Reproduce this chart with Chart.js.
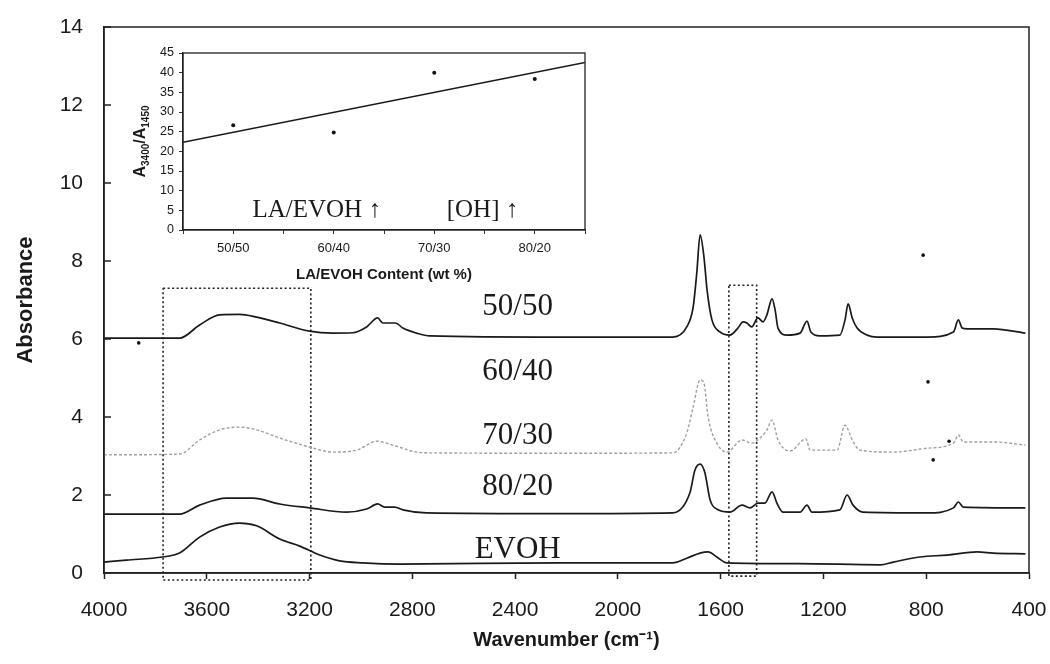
<!DOCTYPE html>
<html>
<head>
<meta charset="utf-8">
<script src="https://cdn.jsdelivr.net/npm/chart.js@4.4.0/dist/chart.umd.min.js"></script>
<style>
  html, body { margin: 0; padding: 0; background: #fff; }
  #wrap { position: relative; width: 1050px; height: 664px; }
  #main { position: absolute; left: 0; top: 0; }
  #inset { position: absolute; left: 120px; top: 40px; }
</style>
</head>
<body>
<div id="wrap">
  <canvas id="main" width="1050" height="664" style="width:1050px;height:664px"></canvas>
  <canvas id="inset" width="480" height="250" style="width:480px;height:250px"></canvas>
</div>
<script>
// FTIR spectra (wavenumber cm-1 / absorbance)
const wn5050 = [4000, 3706, 3628, 3550, 3472, 3406, 3316, 3200, 3110, 3032, 2978, 2935, 2915, 2888, 2865, 2837, 2783, 2732, 2226, 1786, 1732, 1707, 1693, 1680, 1665, 1653, 1634, 1603, 1564, 1533, 1513, 1498, 1479, 1455, 1435, 1420, 1400, 1388, 1377, 1342, 1291, 1264, 1249, 1214, 1136, 1116, 1104, 1088, 1069, 1030, 991, 796, 694, 675, 660, 640, 539, 414];
const ab5050 = [6.02, 6.02, 6.36, 6.62, 6.63, 6.56, 6.41, 6.2, 6.15, 6.16, 6.31, 6.54, 6.41, 6.41, 6.41, 6.28, 6.15, 6.08, 6.05, 6.05, 6.31, 6.82, 7.69, 8.67, 8.1, 7.26, 6.49, 6.18, 6.1, 6.28, 6.44, 6.41, 6.31, 6.54, 6.44, 6.62, 7.03, 6.74, 6.28, 6.1, 6.15, 6.46, 6.18, 6.08, 6.1, 6.49, 6.9, 6.54, 6.28, 6.1, 6.05, 6.05, 6.18, 6.49, 6.28, 6.26, 6.26, 6.15];

const wn7030 = [4000, 3706, 3628, 3550, 3472, 3406, 3316, 3200, 3110, 3017, 2939, 2876, 2783, 2720, 2226, 1786, 1732, 1707, 1680, 1665, 1649, 1615, 1576, 1517, 1479, 1455, 1420, 1400, 1377, 1330, 1268, 1252, 1147, 1116, 1088, 1058, 928, 796, 694, 675, 656, 539, 414];
const ab7030 = [3.03, 3.05, 3.41, 3.67, 3.74, 3.67, 3.46, 3.23, 3.1, 3.15, 3.38, 3.28, 3.1, 3.08, 3.07, 3.08, 3.59, 4.26, 4.95, 4.87, 4.0, 3.33, 3.1, 3.41, 3.33, 3.41, 3.67, 3.92, 3.41, 3.13, 3.44, 3.15, 3.15, 3.79, 3.41, 3.15, 3.1, 3.2, 3.33, 3.54, 3.36, 3.36, 3.28];

const wn8020 = [4000, 3706, 3628, 3523, 3421, 3316, 3200, 3056, 2978, 2935, 2908, 2869, 2837, 2745, 2226, 1786, 1720, 1700, 1680, 1661, 1641, 1610, 1564, 1517, 1486, 1455, 1428, 1400, 1381, 1357, 1291, 1264, 1245, 1136, 1108, 1085, 1046, 796, 694, 675, 656, 414];
const ab8020 = [1.51, 1.51, 1.74, 1.92, 1.92, 1.77, 1.67, 1.56, 1.64, 1.77, 1.69, 1.69, 1.62, 1.54, 1.52, 1.54, 2.05, 2.64, 2.79, 2.56, 1.87, 1.62, 1.56, 1.74, 1.67, 1.79, 1.79, 2.08, 1.79, 1.56, 1.56, 1.74, 1.56, 1.62, 2.0, 1.74, 1.56, 1.54, 1.67, 1.82, 1.69, 1.67];

const wnEvoh = [4000, 3913, 3772, 3706, 3628, 3550, 3472, 3406, 3316, 3238, 3160, 3083, 2993, 2849, 2226, 1786, 1732, 1680, 1649, 1615, 1576, 1300, 979, 928, 825, 718, 601, 539, 414];
const abEvoh = [0.28, 0.33, 0.41, 0.51, 0.92, 1.18, 1.28, 1.21, 0.87, 0.69, 0.46, 0.31, 0.26, 0.23, 0.26, 0.26, 0.38, 0.51, 0.54, 0.41, 0.26, 0.24, 0.21, 0.28, 0.41, 0.46, 0.54, 0.51, 0.49];

// dotted boxes around the 3400 and 1450 bands
const boxOH = { wn: [3770, 3195], abs: [-0.18, 7.3] };
const boxCH = { wn: [1568, 1460], abs: [-0.08, 7.38] };

// stray specks on the scan
const speckWn = [3865, 812, 793, 711, 773];
const speckAb = [5.9, 8.15, 4.9, 3.38, 2.9];

const curveNames = ['50/50', '60/40', '70/30', '80/20', 'EVOH'];

// inset: A3400/A1450 ratio vs blend ratio
const insetCats = ['50/50', '60/40', '70/30', '80/20'];
const ratio = [26.6, 24.8, 40.0, 38.4];
const trendX = [0.5, 4.5];
const trendY = [22.3, 42.6];

const sans = '"Liberation Sans", Arial, sans-serif';
const serif = '"Liberation Serif", "Times New Roman", serif';
const ink = '#1a1a1a';

const toPts = (xs, ys) => xs.map((x, i) => ({ x: x, y: ys[i] }));

function spectrum(label, xs, ys, color, dash) {
    return {
        type: 'line', label: label, data: toPts(xs, ys),
        borderColor: color, borderWidth: dash ? 1.4 : 1.7, borderDash: dash || [],
        pointRadius: 0, cubicInterpolationMode: 'monotone', fill: false
    };
}

function box(b) {
    const xs = [b.wn[0], b.wn[1], b.wn[1], b.wn[0], b.wn[0]];
    const ys = [b.abs[1], b.abs[1], b.abs[0], b.abs[0], b.abs[1]];
    return {
        type: 'line', data: toPts(xs, ys), borderColor: '#222', borderWidth: 1.6,
        borderDash: [2, 2.5], pointRadius: 0, fill: false, clip: false
    };
}

// where the sample names sit (wavenumber, absorbance)
const nameAt = [[2390, 6.82], [2390, 5.15], [2390, 3.51], [2390, 2.2], [2390, 0.59]];

const mainFrame = {
    id: 'mainFrame',
    afterDraw(chart) {
        const { ctx, chartArea: a, scales: { x, y } } = chart;
        ctx.save();
        ctx.strokeStyle = '#222';
        ctx.lineWidth = 1.5;
        ctx.strokeRect(a.left, a.top, a.right - a.left, a.bottom - a.top);
        // inward tick marks on the absorbance axis
        y.ticks.forEach(t => {
            const py = y.getPixelForValue(t.value);
            ctx.beginPath();
            ctx.moveTo(a.left, py);
            ctx.lineTo(a.left + 7, py);
            ctx.stroke();
        });
        ctx.font = '31px ' + serif;
        ctx.fillStyle = ink;
        ctx.textAlign = 'center';
        ctx.textBaseline = 'middle';
        curveNames.forEach((n, i) => {
            ctx.fillText(n, x.getPixelForValue(nameAt[i][0]), y.getPixelForValue(nameAt[i][1]));
        });
        ctx.restore();
    }
};

new Chart(document.getElementById('main'), {
    type: 'line',
    data: {
        datasets: [
            spectrum('50/50', wn5050, ab5050, ink),
            spectrum('70/30', wn7030, ab7030, '#a0a0a0', [3, 2]),
            spectrum('80/20', wn8020, ab8020, ink),
            spectrum('EVOH', wnEvoh, abEvoh, ink),
            box(boxOH),
            box(boxCH),
            { type: 'scatter', data: toPts(speckWn, speckAb), pointRadius: 1.8, pointBackgroundColor: '#111', pointBorderWidth: 0 }
        ]
    },
    options: {
        responsive: false,
        animation: false,
        layout: { padding: { left: 0, top: 27, right: 21, bottom: 0 } },
        plugins: { legend: { display: false }, tooltip: { enabled: false } },
        scales: {
            x: {
                type: 'linear', reverse: true, min: 400, max: 4000,
                ticks: { stepSize: 400, maxRotation: 0, padding: 19, color: ink, font: { family: sans, size: 21 }, callback: v => String(v) },
                grid: { drawOnChartArea: false, tickLength: 6, tickColor: '#222', tickWidth: 1.5 },
                border: { color: '#222', width: 1.5 },
                title: { display: true, text: 'Wavenumber (cm⁻¹)', color: ink, font: { family: sans, size: 20, weight: 'bold' }, padding: { top: 0, bottom: 12 } },
                afterFit: s => { s.height = 91; s.paddingLeft = 0; s.paddingRight = 0; }
            },
            y: {
                min: 0, max: 14,
                ticks: { stepSize: 2, padding: 21, color: ink, font: { family: sans, size: 21 } },
                grid: { drawOnChartArea: false, drawTicks: false },
                border: { color: '#222', width: 1.5 },
                title: { display: true, text: 'Absorbance', color: ink, font: { family: sans, size: 22, weight: 'bold' }, padding: { top: 13, bottom: 0 } },
                afterFit: s => { s.width = 104; s.paddingTop = 0; s.paddingBottom = 0; }
            }
        }
    },
    plugins: [mainFrame]
});

// ---- inset ----
const insetNotes = [['LA/EVOH ↑', 1.83, 3.3], ['[OH] ↑', 3.48, 3.3]];

const insetFrame = {
    id: 'insetFrame',
    afterDraw(chart) {
        const { ctx, chartArea: a, scales: { x, y } } = chart;
        ctx.save();
        ctx.strokeStyle = '#222';
        ctx.lineWidth = 1.3;
        ctx.strokeRect(a.left, a.top, a.right - a.left, a.bottom - a.top);

        ctx.fillStyle = ink;
        ctx.font = '25px ' + serif;
        ctx.textAlign = 'center';
        ctx.textBaseline = 'alphabetic';
        insetNotes.forEach(n => ctx.fillText(n[0], x.getPixelForValue(n[1]), y.getPixelForValue(n[2])));

        // y title with subscripts: A3400/A1450
        const parts = [['A', 16, 0], ['3400', 10, 4], ['/A', 16, 0], ['1450', 10, 4]];
        ctx.translate(20, (a.top + a.bottom) / 2);
        ctx.rotate(-Math.PI / 2);
        let total = 0;
        parts.forEach(p => { ctx.font = 'bold ' + p[1] + 'px ' + sans; total += ctx.measureText(p[0]).width; });
        let cx = -total / 2;
        ctx.textAlign = 'left';
        parts.forEach(p => {
            ctx.font = 'bold ' + p[1] + 'px ' + sans;
            ctx.fillText(p[0], cx, 5 + p[2]);
            cx += ctx.measureText(p[0]).width;
        });
        ctx.restore();
    }
};

new Chart(document.getElementById('inset'), {
    type: 'scatter',
    data: {
        datasets: [
            { type: 'scatter', data: ratio.map((v, i) => ({ x: i + 1, y: v })), pointRadius: 2, pointBackgroundColor: '#111', pointBorderWidth: 0 },
            { type: 'line', data: toPts(trendX, trendY), borderColor: ink, borderWidth: 1.5, pointRadius: 0 }
        ]
    },
    options: {
        responsive: false,
        animation: false,
        layout: { padding: { left: 0, top: 13, right: 15, bottom: 0 } },
        plugins: { legend: { display: false }, tooltip: { enabled: false } },
        scales: {
            x: {
                type: 'linear', min: 0.5, max: 4.5,
                afterBuildTicks: s => { s.ticks = [0.5, 1, 1.5, 2, 2.5, 3, 3.5, 4, 4.5].map(v => ({ value: v })); },
                ticks: { autoSkip: false, maxRotation: 0, padding: 7, color: ink, font: { family: sans, size: 13 },
                         callback: v => Number.isInteger(v) ? insetCats[v - 1] : '' },
                grid: { drawOnChartArea: false, tickLength: 4, tickColor: '#333' },
                border: { color: '#222', width: 1.3 },
                title: { display: true, text: 'LA/EVOH Content (wt %)', color: ink, font: { family: sans, size: 15, weight: 'bold' }, padding: { top: 0, bottom: 6 } },
                afterFit: s => { s.height = 60; }
            },
            y: {
                min: 0, max: 45,
                ticks: { stepSize: 5, padding: 5, color: ink, font: { family: sans, size: 12.5 } },
                grid: { drawOnChartArea: false, tickLength: 4, tickColor: '#333' },
                border: { color: '#222', width: 1.3 },
                afterFit: s => { s.width = 63; }
            }
        }
    },
    plugins: [insetFrame]
});
</script>
</body>
</html>
